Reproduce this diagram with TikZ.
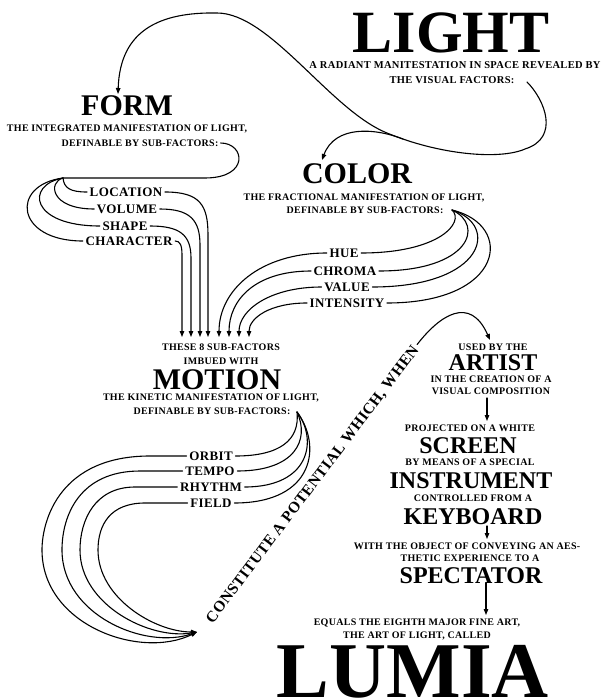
\documentclass[tikz,border=0pt]{standalone}
\usepackage{fontspec}
\setmainfont{Liberation Serif}
\newfontfamily\capf[LetterSpace=3]{Liberation Serif}
\usetikzlibrary{arrows.meta}
\begin{document}
\begin{tikzpicture}[x=1pt,y=-1pt,
  captxt/.style={font=\capf\bfseries\fontsize{10}{12}\selectfont, text height=6.6pt, text depth=0pt, inner xsep=2pt, inner ysep=0pt},
  bigcaptxt/.style={captxt, font=\capf\bfseries\fontsize{10.5}{12}\selectfont, text height=7pt},
  labtxt/.style={font=\capf\bfseries\fontsize{13}{15}\selectfont, text height=8.6pt, text depth=0pt, inner xsep=2.5pt, inner ysep=0pt},
  ttltxt/.style={font=\bfseries\fontsize{30}{32}\selectfont, text height=19.9pt, text depth=0pt, inner sep=0pt},
  midtxt/.style={font=\bfseries\fontsize{24}{26}\selectfont, text height=15.9pt, text depth=0pt, inner sep=0pt},
  conline/.style={line width=1.1pt, line cap=round},
  arrline/.style={conline, -{Triangle[length=6pt,width=4.5pt]}}]
\path[use as bounding box] (0,0) rectangle (608,700);

% LIGHT
\node[font=\bfseries\fontsize{60}{62}\selectfont, text height=39.7pt, text depth=0pt, inner sep=0pt] (light) at (451,33) {LIGHT};
\node[bigcaptxt] (l1) at (455,65) {A RADIANT MANITESTATION IN SPACE REVEALED BY};
\node[bigcaptxt] (l2) at (452,80) {THE VISUAL FACTORS:};

% FORM
\node[ttltxt] (form) at (127,106) {FORM};
\node[captxt] (f1) at (127,128) {THE INTEGRATED MANIFESTATION OF LIGHT,};
\node[captxt] (f2) at (140,143) {DEFINABLE BY SUB-FACTORS:};
\node[labtxt] (loc) at (126,192) {LOCATION};
\node[labtxt] (vol) at (127,209) {VOLUME};
\node[labtxt] (shp) at (125,226) {SHAPE};
\node[labtxt] (chr) at (129,241) {CHARACTER};

% COLOR
\node[ttltxt] (color) at (357,174) {COLOR};
\node[captxt] (c1) at (364,197) {THE FRACTIONAL MANIFESTATION OF LIGHT,};
\node[captxt] (c2) at (365,210) {DEFINABLE BY SUB-FACTORS:};
\node[labtxt] (hue) at (344,253) {HUE};
\node[labtxt] (chroma) at (345,271) {CHROMA};
\node[labtxt] (value) at (347,287) {VALUE};
\node[labtxt] (intensity) at (347,303) {INTENSITY};

% MOTION
\node[captxt] (these) at (221,347) {THESE 8 SUB-FACTORS};
\node[captxt] (imbued) at (221,361) {IMBUED WITH};
\node[ttltxt] (motion) at (217,380) {MOTION};
\node[captxt] (m1) at (211,397) {THE KINETIC MANIFESTATION OF LIGHT,};
\node[captxt] (m2) at (212,411) {DEFINABLE BY SUB-FACTORS:};
\node[labtxt] (orbit) at (211,456) {ORBIT};
\node[labtxt] (tempo) at (210,471) {TEMPO};
\node[labtxt] (rhythm) at (211,487) {RHYTHM};
\node[labtxt] (field) at (211,503) {FIELD};

% diagonal
\node[font=\capf\bfseries\fontsize{15.5}{17}\selectfont, text height=10.3pt, text depth=0pt, inner xsep=3pt, inner ysep=0pt, rotate=53] (constitute) at (312,484) {CONSTITUTE A POTENTIAL WHICH, WHEN};

% right column
\node[captxt] (used) at (493,347) {USED BY THE};
\node[midtxt] (artist) at (493,363) {ARTIST};
\node[captxt] (a1) at (491,379) {IN THE CREATION OF A};
\node[captxt] (a2) at (491,391) {VISUAL COMPOSITION};
\node[captxt] (proj) at (470,428) {PROJECTED ON A WHITE};
\node[midtxt] (screen) at (468,446) {SCREEN};
\node[captxt] (bymeans) at (470,462) {BY MEANS OF A SPECIAL};
\node[midtxt] (instrument) at (471,481) {INSTRUMENT};
\node[captxt] (controlled) at (473,498) {CONTROLLED FROM A};
\node[midtxt] (keyboard) at (473,517) {KEYBOARD};
\node[captxt] (with) at (467,546) {WITH THE OBJECT OF CONVEYING AN AES-};
\node[captxt] (thetic) at (470,558) {THETIC EXPERIENCE TO A};
\node[midtxt] (spectator) at (471,576) {SPECTATOR};
\node[captxt] (equals) at (417,622) {EQUALS THE EIGHTH MAJOR FINE ART,};
\node[captxt] (artof) at (417,635) {THE ART OF LIGHT, CALLED};
\node[font=\bfseries\fontsize{79}{82}\selectfont, text height=52.3pt, text depth=0pt, inner sep=0pt] (lumia) at (413,671.5) {LUMIA};

% coordinates
\coordinate (ls) at (527,82);
\coordinate (formtip) at (118,94);
\coordinate (br) at (403,139);
\coordinate (colortip) at (322,160);
\coordinate (fj) at (63,178);
\coordinate (cj) at (452,210);
\coordinate (mj) at (297,412);
\coordinate (mtip) at (197,632);
\coordinate (arttip) at (490,340);
\coordinate (t1) at (182,337);
\coordinate (t2) at (191,337);
\coordinate (t3) at (200,337);
\coordinate (t4) at (208,337);
\coordinate (t5) at (219,337);
\coordinate (t6) at (229,337);
\coordinate (t7) at (239,337);
\coordinate (t8) at (249,337);
\coordinate (r1a) at (487,398);
\coordinate (r1b) at (487,421);
\coordinate (r2a) at (487,526);
\coordinate (r2b) at (487,539);
\coordinate (r3a) at (486,583);
\coordinate (r3b) at (486,615);

% LIGHT curve and branch
\draw[arrline] (ls) .. controls (545,100) and (560,138) .. (525,149) .. controls (500,160) and (440,155) .. (387,133) .. controls (330,110) and (270,13) .. (217,13) .. controls (160,12) and (120,30) .. (formtip);
\draw[arrline] (br) .. controls (375,128) and (335,125) .. (colortip);

% FORM sub-factors
\draw[conline] (f2.east) .. controls (245,143) and (250,178) .. (205,178) -- (fj);
\draw[conline] (fj) .. controls (64,188) and (70,192) .. (loc.west);
\draw[conline] (fj) .. controls (48,182) and (50,209) .. (vol.west);
\draw[conline] (fj) .. controls (25,185) and (30,226) .. (shp.west);
\draw[conline] (fj) .. controls (10,185) and (15,241) .. (chr.west);
\draw[arrline] (loc.east) .. controls (200,192) and (208,205) .. (208,235) -- (t4);
\draw[arrline] (vol.east) .. controls (190,209) and (200,220) .. (200,245) -- (t3);
\draw[arrline] (shp.east) .. controls (180,226) and (191,235) .. (191,258) -- (t2);
\draw[arrline] (chr.east) .. controls (180,241) and (182,245) .. (182,255) -- (t1);

% COLOR sub-factors
\draw[conline] (cj) .. controls (465,222) and (440,253) .. (hue.east);
\draw[conline] (cj) .. controls (485,225) and (470,271) .. (chroma.east);
\draw[conline] (cj) .. controls (500,225) and (485,287) .. (value.east);
\draw[conline] (cj) .. controls (515,225) and (505,303) .. (intensity.east);
\draw[arrline] (hue.west) .. controls (260,253) and (219,290) .. (t5);
\draw[arrline] (chroma.west) .. controls (255,271) and (229,300) .. (t6);
\draw[arrline] (value.west) .. controls (270,287) and (239,310) .. (t7);
\draw[arrline] (intensity.west) .. controls (270,303) and (249,318) .. (t8);

% MOTION sub-factors
\draw[conline] (mj) .. controls (300,440) and (280,456) .. (orbit.east);
\draw[conline] (mj) .. controls (310,440) and (295,471) .. (tempo.east);
\draw[conline] (mj) .. controls (318,440) and (310,487) .. (rhythm.east);
\draw[conline] (mj) .. controls (322,445) and (315,503) .. (field.east);
\draw[arrline] (orbit.west) -- (150,456) .. controls (60,456) and (42,520) .. (42,550) .. controls (42,625) and (140,660) .. (mtip);
\draw[arrline] (tempo.west) -- (140,471) .. controls (80,471) and (62,515) .. (62,550) .. controls (62,615) and (145,650) .. (mtip);
\draw[arrline] (rhythm.west) -- (135,487) .. controls (95,487) and (80,520) .. (80,550) .. controls (80,605) and (150,640) .. (mtip);
\draw[arrline] (field.west) -- (145,503) .. controls (110,503) and (98,525) .. (98,550) .. controls (98,598) and (155,632) .. (mtip);

% to ARTIST and down the column
\draw[arrline] (constitute.east) .. controls (440,315) and (470,295) .. (arttip);
\draw[arrline] (r1a) -- (r1b);
\draw[arrline] (r2a) -- (r2b);
\draw[arrline] (r3a) -- (r3b);
\end{tikzpicture}
\end{document}
